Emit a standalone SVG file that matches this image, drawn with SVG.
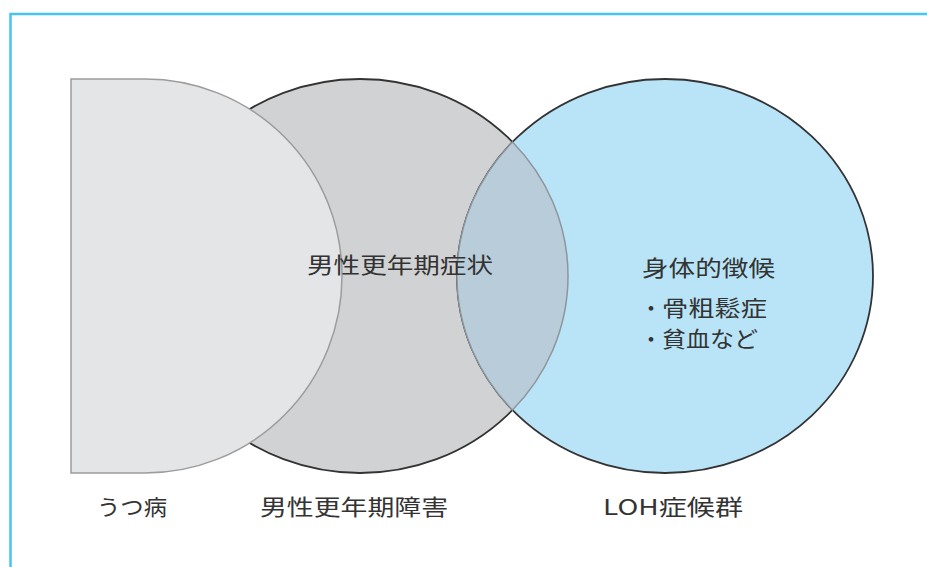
<svg xmlns="http://www.w3.org/2000/svg" width="927" height="567" viewBox="0 0 927 567">
<style>
.t{font-family:"Noto Sans CJK JP","Noto Sans",sans-serif;font-size:22px;fill:#333;font-weight:400}
.dark{stroke:#333;stroke-width:1.8}
</style>
<rect x="0" y="0" width="927" height="567" fill="#fff"/>
<path d="M10.5,567 V14 H927" fill="none" stroke="#45c3f2" stroke-width="2.5"/>
<g id="male-menopause">
<ellipse cx="360" cy="276" rx="208" ry="197" fill="#d1d2d4" class="dark"/>
</g>
<g id="loh">
<ellipse cx="665" cy="276" rx="208" ry="197" fill="#b9e4f7" class="dark"/>
</g>
<g id="overlap">
<path d="M512.5,142 A208,197 0 0 1 512.5,410 A208,197 0 0 1 512.5,142 Z" fill="#b8cdd9" stroke="#8c969c" stroke-width="1.5"/>
</g>
<g id="depression">
<path d="M71,79 H145 A197,197 0 0 1 145,473 H71 Z" fill="#e4e5e7" stroke="#9c9c9e" stroke-width="1.5"/>
</g>
<g id="labels">
<text class="t" x="307" y="273" textLength="186" lengthAdjust="spacingAndGlyphs">男性更年期症状</text>
<text class="t" x="642" y="276" textLength="133" lengthAdjust="spacingAndGlyphs">身体的徴候</text>
<text class="t" y="316"><tspan x="640">・</tspan><tspan x="662" textLength="105" lengthAdjust="spacingAndGlyphs">骨粗鬆症</tspan></text>
<text class="t" y="347"><tspan x="640">・</tspan><tspan x="662" textLength="96" lengthAdjust="spacingAndGlyphs">貧血など</tspan></text>
<text class="t" x="97" y="515" textLength="70" lengthAdjust="spacingAndGlyphs">うつ病</text>
<text class="t" x="260" y="515" textLength="188" lengthAdjust="spacingAndGlyphs">男性更年期障害</text>
<text class="t" x="603" y="515" textLength="140" lengthAdjust="spacingAndGlyphs">LOH症候群</text>
</g>
</svg>
